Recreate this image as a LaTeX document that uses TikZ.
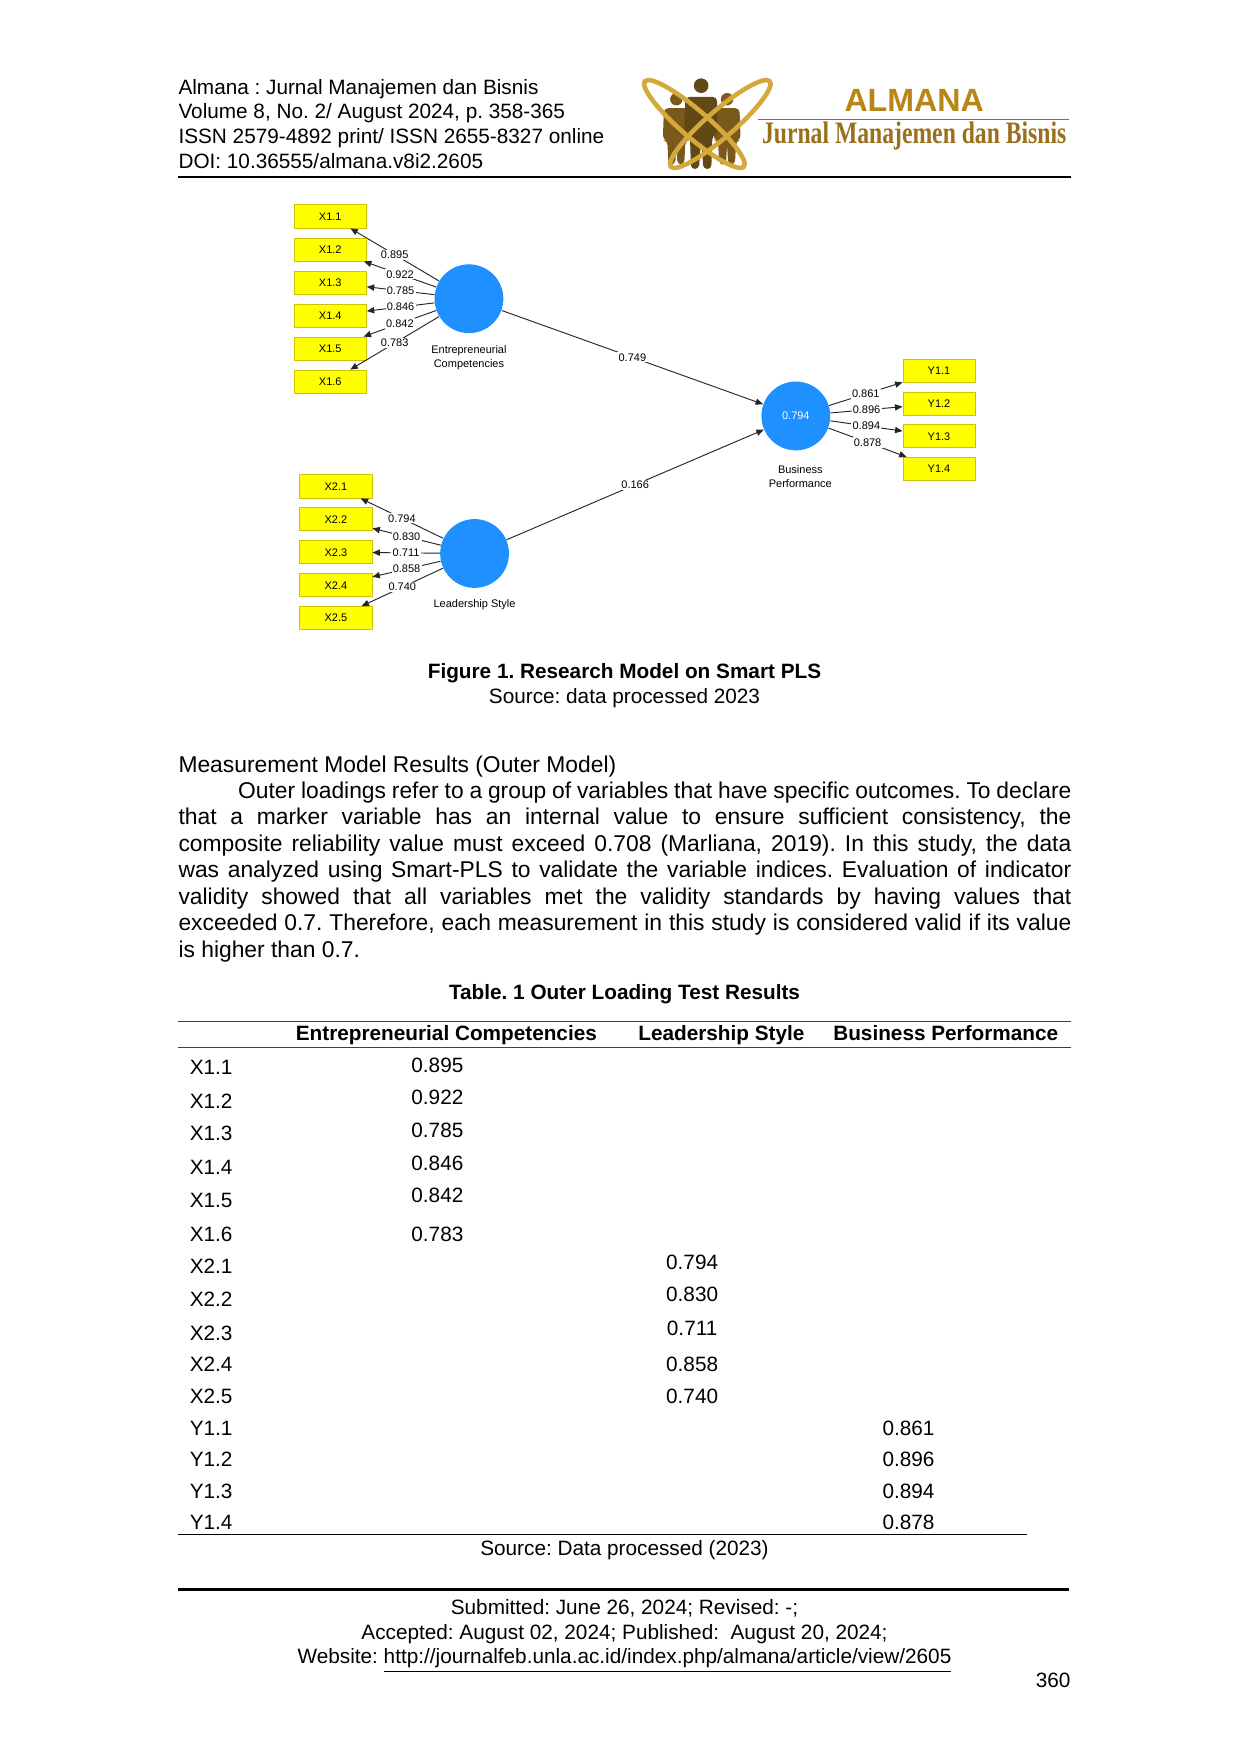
\documentclass[tikz,border=0pt]{standalone}
\usepackage{fontspec}
\setmainfont{Liberation Sans}
\newfontfamily\logoserif{Liberation Serif}
\usetikzlibrary{arrows.meta}
\frenchspacing
\definecolor{plsblue}{RGB}{30,144,255}
\definecolor{indyellow}{RGB}{255,255,0}
\definecolor{indedge}{RGB}{205,195,0}
\definecolor{orbitgold}{RGB}{212,168,58}
\definecolor{mangold}{RGB}{122,90,26}
\definecolor{titlegold}{RGB}{184,134,22}
\definecolor{subgold}{RGB}{155,112,28}

\begin{document}
\begin{tikzpicture}[x=0.019091cm, y=-0.019091cm,
    txt/.style={anchor=base west, inner sep=0pt, font=\fontsize{10}{12}\selectfont},
    mid/.style={anchor=base, inner sep=0pt, font=\fontsize{10}{12}\selectfont},
    ind/.style={draw=indedge, fill=indyellow, minimum width=1.222cm, minimum height=0.391cm, inner sep=0pt, font=\fontsize{5.3}{6}\selectfont},
    lv/.style={circle, fill=plsblue, minimum size=1.165cm, inner sep=0pt, text=white, font=\fontsize{5.3}{6}\selectfont},
    lvname/.style={align=center, inner sep=0pt, font=\fontsize{5.3}{6.8}\selectfont},
    load/.style={-{Triangle[length=3.6pt,width=3pt]}, line width=0.45pt, black!85},
    coef/.style={fill=white, inner sep=0.6pt, text=black, font=\fontsize{5.3}{6}\selectfont}]
    \fill[white] (0,0) rectangle (1100,1556);
    \useasboundingbox (0,0) rectangle (1100,1556);

    % journal header
    \node[txt] (head1) at (158,83.5) {Almana : Jurnal Manajemen dan Bisnis};
    \node[txt] (head2) at (158,105.5) {Volume 8, No. 2/ August 2024, p. 358-365};
    \node[txt] (head3) at (158,127.5) {ISSN 2579-4892 print/ ISSN 2655-8327 online};
    \node[txt] (head4) at (158,149.5) {DOI: 10.36555/almana.v8i2.2605};
    \draw[line width=0.6pt] (158,157) -- (950,157);

    % logo
    \foreach \cx in {600,645} {
        \fill[mangold] (\cx,88) circle[radius=5.5];
        \fill[mangold, rounded corners=2] (\cx-11,96) -- (\cx+11,96) -- (\cx+12,124) -- (\cx+8,125) -- (\cx+7,146)
            -- (\cx+1,146) -- (\cx,128) -- (\cx-1,146) -- (\cx-7,146) -- (\cx-8,125) -- (\cx-12,124) -- cycle;
    }
    \fill[mangold!80!black] (622,76) circle[radius=6.5];
    \fill[mangold!80!black, rounded corners=2] (608,86) -- (636,86) -- (637,118) -- (632,120) -- (631,150)
        -- (624,150) -- (622,124) -- (620,150) -- (613,150) -- (612,120) -- (607,118) -- cycle;
    \draw[orbitgold, line width=2.2pt, rotate around={-40.8:(616,110)}] (616,110) ellipse[x radius=58, y radius=12];
    \draw[orbitgold, line width=2.2pt, rotate around={40.8:(639,110)}] (639,110) ellipse[x radius=58, y radius=12];
    \node[anchor=base, inner sep=0pt, text=titlegold, font=\fontsize{15.5}{16}\selectfont\bfseries] (almana) at (811,99) {ALMANA};
    \draw[subgold, line width=0.9pt] (672,106) -- (948,106);
    \node[anchor=base, inner sep=0pt, text=subgold] (jurnal) at (811,127)
        {\scalebox{0.76}[1]{\logoserif\fontsize{15}{16}\selectfont\bfseries Jurnal Manajemen dan Bisnis}};

    % research model
    \node[lv] (ec) at (416,265) {};
    \node[lv] (ls) at (421,491) {};
    \node[lv] (bp) at (706,369) {0.794};
    \node[lvname] (ecname) at (416,317) {Entrepreneurial\\Competencies};
    \node[lvname] (lsname) at (421,536) {Leadership Style};
    \node[lvname] (bpname) at (710,423) {Business\\Performance};
    \foreach \i/\v in {1/0.895,2/0.922,3/0.785,4/0.846,5/0.842,6/0.783} {
        \node[ind] (x1\i) at (293,{192+29.3*(\i-1)}) {X1.\i};
        \draw[load] (ec) -- (x1\i) node[coef, midway] {\v};
    }
    \foreach \i/\v in {1/0.794,2/0.830,3/0.711,4/0.858,5/0.740} {
        \node[ind] (x2\i) at (298,{431.5+29.2*(\i-1)}) {X2.\i};
        \draw[load] (ls) -- (x2\i) node[coef, midway] {\v};
    }
    \foreach \i/\v in {1/0.861,2/0.896,3/0.894,4/0.878} {
        \node[ind] (y1\i) at (833,{329+29*(\i-1)}) {Y1.\i};
        \draw[load] (bp) -- (y1\i) node[coef, midway] {\v};
    }
    \draw[load] (ec) -- (bp) node[coef, midway] {0.749};
    \draw[load] (ls) -- (bp) node[coef, midway] {0.166};

    % caption
    \node[mid, font=\fontsize{10}{12}\selectfont\bfseries] (cap) at (554,602) {Figure 1. Research Model on Smart PLS};
    \node[mid] (capsrc) at (554,624) {Source: data processed 2023};

    % text
    \node[txt, font=\fontsize{11}{12.76}\selectfont] (sect) at (158,685) {Measurement Model Results (Outer Model)};
    \node[txt, text width=15.12cm, align=justify, font=\fontsize{11}{12.76}\selectfont] (para) at (158,708)
        {\hspace*{1.01cm}Outer loadings refer to a group of variables that have specific outcomes. To declare\linebreak
        that a marker variable has an internal value to ensure sufficient consistency, the\linebreak
        composite reliability value must exceed 0.708 (Marliana, 2019). In this study, the data\linebreak
        was analyzed using Smart-PLS to validate the variable indices. Evaluation of indicator\linebreak
        validity showed that all variables met the validity standards by having values that\linebreak
        exceeded 0.7. Therefore, each measurement in this study is considered valid if its value\linebreak
        is higher than 0.7.};

    % table
    \node[mid, font=\fontsize{10}{12}\selectfont\bfseries] (tabcap) at (554,887) {Table. 1 Outer Loading Test Results};
    \draw[line width=0.5pt, black!75] (158,906) -- (950,906);
    \node[mid, font=\fontsize{10}{12}\selectfont\bfseries] (colec) at (396,923) {Entrepreneurial Competencies};
    \node[mid, font=\fontsize{10}{12}\selectfont\bfseries] (colls) at (640,923) {Leadership Style};
    \node[mid, font=\fontsize{10}{12}\selectfont\bfseries] (colbp) at (839,923) {Business Performance};
    \draw[line width=0.5pt, black!75] (158,929) -- (950,929);
    \foreach \r/\y in {X1.1/953,X1.2/983,X1.3/1012,X1.4/1042,X1.5/1071,X1.6/1101,X2.1/1130,X2.2/1159,
        X2.3/1189,X2.4/1217,X2.5/1245,Y1.1/1273,Y1.2/1301,Y1.3/1329,Y1.4/1357}
        \node[txt] (row\r) at (168,\y) {\r};
    \foreach \v/\x/\y in {0.895/388/951,0.922/388/980,0.785/388/1009,0.846/388/1038,0.842/388/1067,0.783/388/1101,
        0.794/614/1126,0.830/614/1155,0.711/614/1185,0.858/614/1217,0.740/614/1245,
        0.861/806/1273,0.896/806/1301,0.894/806/1329,0.878/806/1357}
        \node[mid] (val\v) at (\x,\y) {\v};
    \draw[line width=0.5pt] (158,1361) -- (911,1361);
    \node[mid] (tabsrc) at (554,1380) {Source: Data processed (2023)};

    % footer
    \draw[line width=1.6pt] (158,1410) -- (948,1410);
    \node[mid] (foot1) at (554,1432) {Submitted: June 26, 2024; Revised: -;};
    \node[mid] (foot2) at (554,1454) {Accepted: August 02, 2024; Published:\ \ August 20, 2024;};
    \node[mid] (foot3) at (554,1476) {Website: \underline{http://journalfeb.unla.ac.id/index.php/almana/article/view/2605}};
    \node[anchor=base east, inner sep=0pt, font=\fontsize{10}{12}\selectfont] (pageno) at (950,1497) {360};
\end{tikzpicture}
\end{document}
